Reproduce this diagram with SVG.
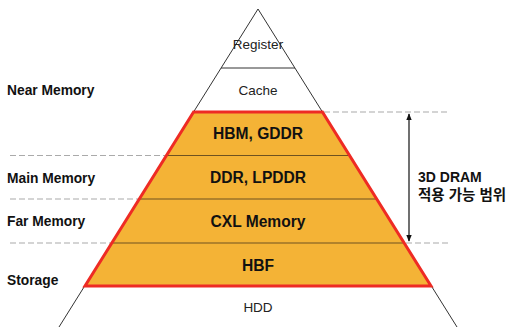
<svg xmlns="http://www.w3.org/2000/svg" width="510" height="327" viewBox="0 0 510 327">
  <defs>
    <marker id="tip" viewBox="0 0 10 10" refX="9" refY="5" markerWidth="7" markerHeight="7" orient="auto-start-reverse" markerUnits="userSpaceOnUse">
      <path d="M0,1 L10,5 L0,9 Z" fill="#111"/>
    </marker>
  </defs>
  <style>
    .edge { fill: none; stroke: #333; stroke-width: 1; }
    .dash { stroke: #aaa; stroke-width: 1.2; stroke-dasharray: 6 3; fill: none; }
    .band { fill: #F4B336; stroke: none; }
    .div { stroke: #6e5220; stroke-width: 1.2; }
    .red { fill: none; stroke: #EE2B24; stroke-width: 3; stroke-linejoin: miter; }
    .lbl { font-family: "Liberation Sans", Arial, sans-serif; font-size: 13.8px; font-weight: bold; fill: #111; }
    .tier { font-family: "Liberation Sans", Arial, sans-serif; font-size: 13.5px; fill: #222; text-anchor: middle; }
    .mem { font-family: "Liberation Sans", Arial, sans-serif; font-size: 15.6px; font-weight: bold; fill: #111; text-anchor: middle; }
    .note { font-family: "Liberation Sans", "Noto Sans CJK KR", sans-serif; font-size: 14px; font-weight: bold; fill: #111; }
    .ko { font-size: 14.5px; }
  </style>

  <!-- pyramid outline -->
  <g id="pyramid">
    <path class="edge" d="M59,327 L258,9 L457,327"/>
    <line class="edge" x1="221" y1="68" x2="295" y2="68"/>
  </g>

  <!-- level guides -->
  <g id="connectors">
    <line class="dash" x1="10" y1="155.5" x2="167" y2="155.5"/>
    <line class="dash" x1="10" y1="199" x2="140" y2="199"/>
    <line class="dash" x1="10" y1="243" x2="112" y2="243"/>
    <line class="dash" x1="324" y1="112" x2="450" y2="112"/>
    <line class="dash" x1="406" y1="243" x2="450" y2="243"/>
    <line x1="409" y1="114" x2="409" y2="241" stroke="#111" stroke-width="1.2" marker-start="url(#tip)" marker-end="url(#tip)"/>
  </g>

  <!-- 3D DRAM band -->
  <g id="dram-band">
    <path class="band" d="M193.6,112 L322.4,112 L431,286 L85,286 Z"/>
    <line class="div" x1="166.5" y1="155.5" x2="349.5" y2="155.5"/>
    <line class="div" x1="139.4" y1="199" x2="376.6" y2="199"/>
    <line class="div" x1="111.9" y1="243" x2="404.1" y2="243"/>
    <path class="red" d="M193.6,112 L322.4,112 L431,286 L85,286 Z"/>
  </g>

  <g id="register"><text class="tier" x="258" y="49">Register</text></g>
  <g id="cache"><text class="tier" x="258" y="95">Cache</text></g>
  <g id="hbm"><text class="mem" x="258" y="139">HBM, GDDR</text></g>
  <g id="ddr"><text class="mem" x="258" y="183">DDR, LPDDR</text></g>
  <g id="cxl"><text class="mem" x="258" y="227">CXL Memory</text></g>
  <g id="hbf"><text class="mem" x="258" y="271">HBF</text></g>
  <g id="hdd"><text class="tier" x="258" y="312">HDD</text></g>

  <g id="tier-labels">
    <text class="lbl" x="7" y="95">Near Memory</text>
    <text class="lbl" x="7" y="183">Main Memory</text>
    <text class="lbl" x="7" y="226">Far Memory</text>
    <text class="lbl" x="7" y="285">Storage</text>
  </g>

  <g id="range-note">
    <text class="note" x="418" y="182">3D DRAM</text>
    <text class="note ko" x="418" y="200">적용 가능 범위</text>
  </g>
</svg>
